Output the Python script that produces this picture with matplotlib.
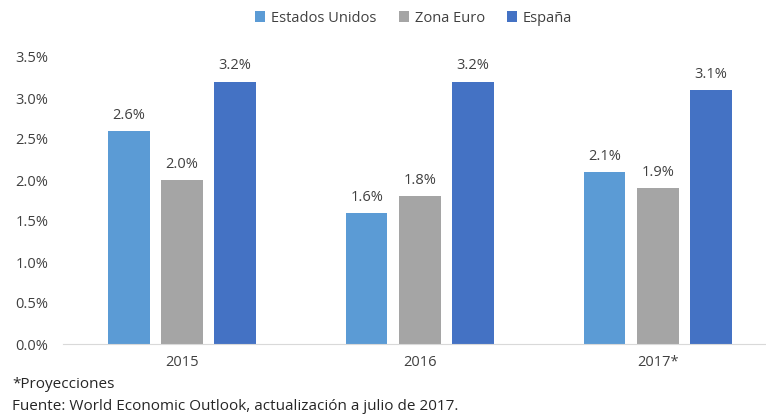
import numpy as np
import matplotlib.pyplot as plt

plt.rcParams["font.family"] = ["Open Sans", "DejaVu Sans"]

years = ["2015", "2016", "2017*"]
series = ["Estados Unidos", "Zona Euro", "España"]
eeuu = [2.6, 1.6, 2.1]
zona_euro = [2.0, 1.8, 1.9]
espana = [3.2, 3.2, 3.1]
colors = ["#5B9BD5", "#A5A5A5", "#4472C4"]
y_ticks = [0.0, 0.5, 1.0, 1.5, 2.0, 2.5, 3.0, 3.5]

W, H = 766, 418
fig = plt.figure(figsize=(W / 100, H / 100), dpi=100)
ax = fig.add_axes([63 / W, (H - 344) / H, (W - 63) / W, (344 - 57) / H])

x = np.arange(len(years))
width = 0.173
step = 0.223
txt = "#404040"

for i, (vals, name, c) in enumerate(zip([eeuu, zona_euro, espana], series, colors)):
    pos = x + (i - 1) * step
    bars = ax.bar(pos, vals, width, color=c, label=name)
    for b, v in zip(bars, vals):
        ax.text(b.get_x() + b.get_width() / 2, v + 0.1, f"{v:.1f}%",
                ha="center", va="bottom", fontsize=10.5, color=txt)

ax.set_xlim(-0.5, 2.454)
ax.set_ylim(0, 3.5)
ax.set_xticks(x)
ax.set_xticklabels(years)
ax.set_yticks(y_ticks)
ax.set_yticklabels([f"{t:.1f}%" for t in y_ticks])
ax.tick_params(axis="both", length=0, labelsize=10.5, colors=txt)
ax.tick_params(axis="y", pad=10.5)
ax.tick_params(axis="x", pad=8)
for s in ["top", "right", "left"]:
    ax.spines[s].set_visible(False)
ax.spines["bottom"].set_color("#D9D9D9")

fig.legend(loc="center", bbox_to_anchor=(0.54, 1 - 18 / H), ncol=3, frameon=False,
           fontsize=10.5, handlelength=0.7, handleheight=0.7, handletextpad=0.4,
           columnspacing=1.5, labelcolor="#404040")

fig.text(12 / W, 1 - 385 / H, "*Proyecciones", fontsize=11, color="#262626", va="center")
fig.text(12 / W, 1 - 406 / H, "Fuente: World Economic Outlook, actualización a julio de 2017.",
         fontsize=11, color="#262626", va="center")

fig.savefig("out.png", dpi=100)
